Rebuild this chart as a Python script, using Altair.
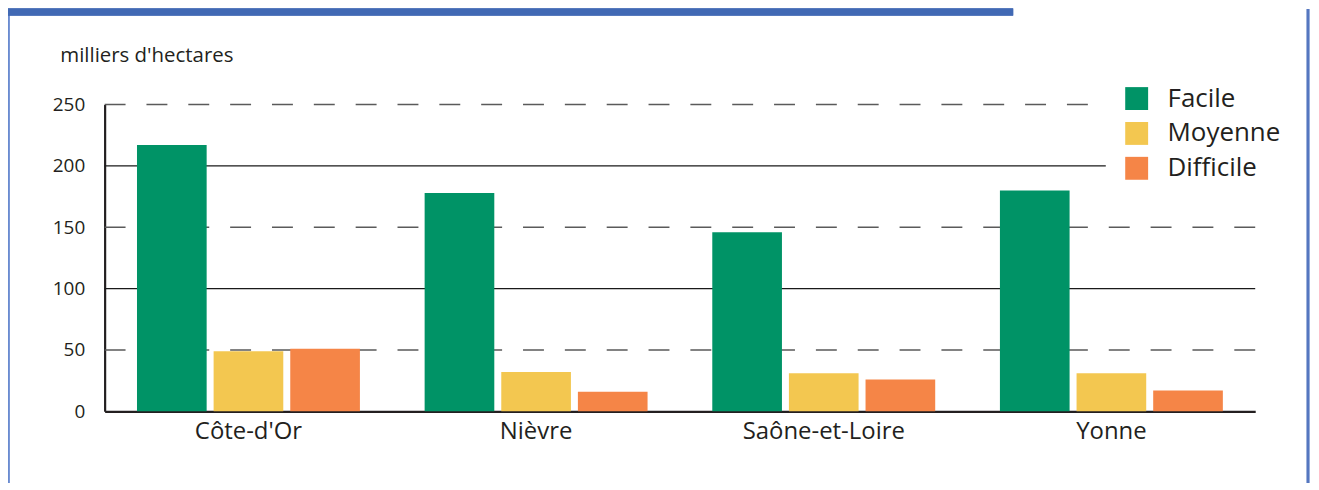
import altair as alt
import pandas as pd

regions = ["Côte-d'Or", "Nièvre", "Saône-et-Loire", "Yonne"]
levels = ["Facile", "Moyenne", "Difficile"]
facile = [217, 178, 146, 180]
moyenne = [49, 32, 31, 31]
difficile = [51, 16, 26, 17]
colors = ["#009366", "#F3C750", "#F58547"]
y_ticks = [0, 50, 100, 150, 200, 250]
dashed_grid = [50, 150, 250]
solid_grid = [100, 200]

rows = []
for i, r in enumerate(regions):
    for lvl, vals in zip(levels, [facile, moyenne, difficile]):
        rows.append({"region": r, "niveau": lvl, "value": vals[i]})
df = pd.DataFrame(rows)

FONT = "Open Sans"
TXT = "#231f20"

W, H = 1155, 308

yscale = alt.Scale(domain=[0, 250], nice=False)
yaxis = alt.Axis(values=y_ticks, ticks=False, grid=False, labelPadding=20,
                 labelFontSize=19, labelFont=FONT, labelColor=TXT,
                 domainColor=TXT, domainWidth=2.2,
                 title="milliers d'hectares", titleAngle=0, titleX=-45, titleY=-43,
                 titleAlign="left", titleBaseline="alphabetic",
                 titleFont=FONT, titleFontSize=20.5, titleFontWeight="normal",
                 titleColor=TXT)

dash_df = pd.DataFrame({"v": dashed_grid})
solid_df = pd.DataFrame({"v": solid_grid})

dashed = alt.Chart(dash_df).mark_rule(color="#5a5a5a", strokeWidth=1.6, strokeDash=[21, 21]).encode(
    y=alt.Y("v:Q", scale=yscale, axis=yaxis)
)
solid = alt.Chart(solid_df).mark_rule(color="#1a1a1a", strokeWidth=1.3).encode(
    y=alt.Y("v:Q", scale=yscale, axis=yaxis)
)

bars = alt.Chart(df).mark_bar().encode(
    x=alt.X("region:N", sort=regions,
            scale=alt.Scale(paddingInner=0.225, paddingOuter=0.1125),
            axis=alt.Axis(title=None, labelAngle=0, ticks=False, labelPadding=8,
                          labelFontSize=24, labelFont=FONT, labelColor=TXT,
                          domainColor=TXT, domainWidth=2.2, grid=False)),
    xOffset=alt.XOffset("niveau:N", sort=levels,
                        scale=alt.Scale(paddingInner=0.0909, paddingOuter=0)),
    y=alt.Y("value:Q", scale=yscale, axis=yaxis),
    color=alt.Color("niveau:N", sort=levels,
                    scale=alt.Scale(domain=levels, range=colors),
                    legend=alt.Legend(title=None, orient="none", legendX=1005, legendY=-37,
                                      fillColor="white", padding=18, symbolType="square",
                                      symbolSize=529, symbolStrokeWidth=0, labelFontSize=26,
                                      labelFont=FONT, labelColor=TXT, rowPadding=9,
                                      labelOffset=18)),
)

# decorative frame (blue border of the original figure)
frame_left = alt.Chart(dash_df).mark_rule(color="#6a8bd0", strokeWidth=3).encode(
    x=alt.value(-97), y=alt.value(-96), y2=alt.value(380)
)
frame_right = alt.Chart(dash_df).mark_rule(color="#5577c0", strokeWidth=2.5).encode(
    x=alt.value(1208), y=alt.value(-96), y2=alt.value(380)
)
frame_top = alt.Chart(dash_df).mark_rule(color="#4169b4", strokeWidth=7).encode(
    x=alt.value(-97), x2=alt.value(912), y=alt.value(-93)
)

chart = alt.layer(dashed, solid, bars, frame_left, frame_right, frame_top).properties(
    width=W, height=H,
    padding={"left": 97, "top": 96, "right": 56, "bottom": 74},
    autosize=alt.AutoSizeParams(type="none"),
).configure(background="white").configure_view(stroke=None)

chart.save("out.html", embed_options={"renderer": "svg", "actions": False})
